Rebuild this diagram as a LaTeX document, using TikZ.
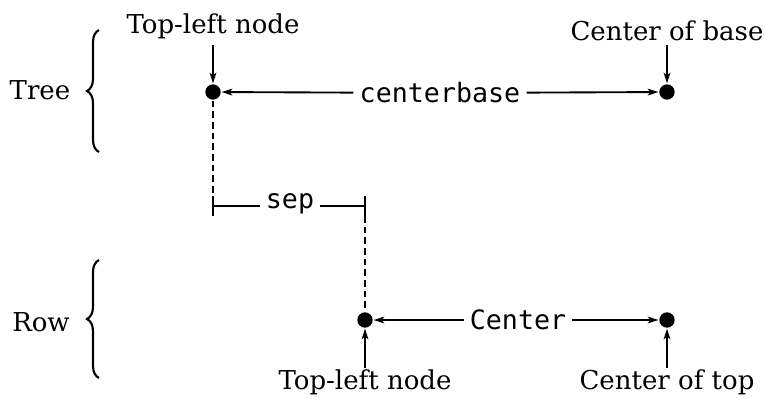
\documentclass[tikz,border=0pt]{standalone}
\usepackage{fontspec}
\setmainfont{DejaVu Serif}
\setmonofont{DejaVu Sans Mono}
\usetikzlibrary{arrows.meta, decorations.pathreplacing}

\begin{document}
\begin{tikzpicture}[x=0.75pt, y=-0.75pt, line width=1.4pt,
  >={Stealth[length=8pt, width=5pt, inset=2pt]},
  lbl/.style={font=\fontsize{19.5}{23}\selectfont, inner sep=2pt},
  code/.style={font=\ttfamily\fontsize{20}{24}\selectfont, inner sep=4pt},
  dot/.style={circle, fill=black, inner sep=0pt, minimum size=11.5pt},
  grp/.style={decorate, decoration={brace, amplitude=9pt}, line width=1.6pt}]

\useasboundingbox (0,0) rectangle (766,397);

% Group labels and braces
\node[lbl] (tree) at (40,90) {Tree};
\draw[grp] (99,152) -- (99,30);
\node[lbl] (row) at (41,322) {Row};
\draw[grp] (99,378) -- (99,260);

% Tree dots
\node[dot] (tl) at (213,92) {};
\node[dot] (cb) at (667,92) {};
\node[lbl] (tltext) at (213,26) {Top-left node};
\node[lbl] (cbtext) at (667,31) {Center of base};
\draw[->] (213,45) -- (tl);
\draw[->] (667,45) -- (cb);

% centerbase
\node[code] (centerbase) at (440,93) {centerbase};
\draw[->] (centerbase) -- (tl);
\draw[->] (centerbase) -- (cb);

% Row dots
\node[dot] (rl) at (365,320) {};
\node[dot] (rc) at (667,320) {};
\node[lbl] (rltext) at (365,382) {Top-left node};
\node[lbl] (rctext) at (667,382) {Center of top};
\draw[->] (365,368) -- (rl);
\draw[->] (667,368) -- (rc);

% Center
\node[code] (center) at (518,320) {Center};
\draw[->] (center) -- (rl);
\draw[->] (center) -- (rc);

% sep
\coordinate (sepl) at (213,206);
\coordinate (sepr) at (365,206);
\node[code] (sep) at (290,204) {sep};
\draw (sep.west |- sepl) -- (sepl);
\draw (sep.east |- sepr) -- (sepr);
\draw (sepl) ++(0,-10) -- ++(0,20);
\draw (sepr) ++(0,-10) -- ++(0,20);
\draw[dashed, dash pattern=on 5pt off 3pt] (tl) -- (213,196);
\draw[dashed, dash pattern=on 5pt off 3pt] (365,216) -- (rl);

\end{tikzpicture}
\end{document}
